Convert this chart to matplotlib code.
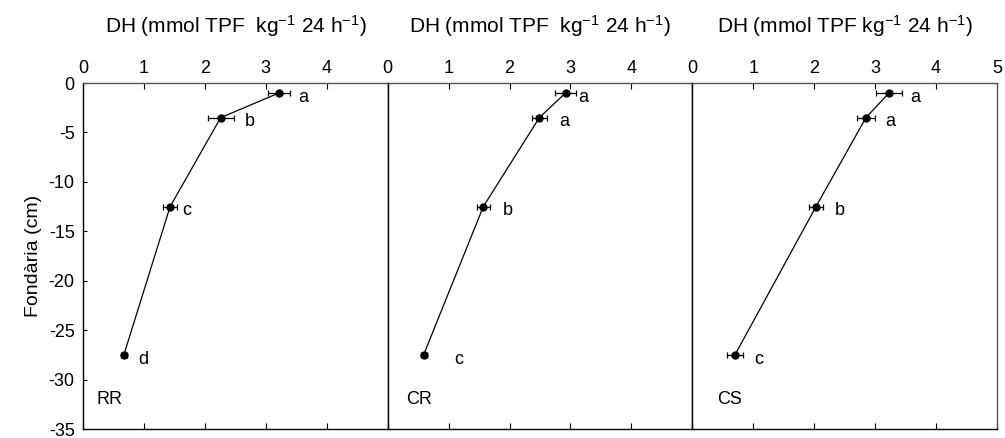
import numpy as np
import matplotlib
matplotlib.use('Agg')
import matplotlib.pyplot as plt

plt.rcParams['font.family'] = ['Liberation Sans', 'DejaVu Sans']
plt.rcParams['mathtext.fontset'] = 'custom'
plt.rcParams['mathtext.rm'] = 'Liberation Sans'
plt.rcParams['mathtext.it'] = 'Liberation Sans'
plt.rcParams['axes.unicode_minus'] = False

# ── Dades ─────────────────────────────────────────────────────────────────────
fondaria = [-1.0, -3.5, -12.5, -27.5]

tractaments = ['RR', 'CR', 'CS']
dh_rr = [3.22, 2.26, 1.43, 0.67]
dh_cr = [2.92, 2.49, 1.57, 0.59]
dh_cs = [3.23, 2.85, 2.03, 0.70]
err_rr = [0.18, 0.21, 0.11, 0.05]
err_cr = [0.17, 0.12, 0.11, 0.05]
err_cs = [0.21, 0.15, 0.12, 0.13]
lletres_rr = ['a', 'b', 'c', 'd']
lletres_cr = ['a', 'a', 'b', 'c']
lletres_cs = ['a', 'a', 'b', 'c']

titols = [r'DH (mmol TPF  kg$^{-1}$ 24 h$^{-1}$)',
          r'DH (mmol TPF  kg$^{-1}$ 24 h$^{-1}$)',
          r'DH (mmol TPF kg$^{-1}$ 24 h$^{-1}$)']

dh = [dh_rr, dh_cr, dh_cs]
err = [err_rr, err_cr, err_cs]
lletres = [lletres_rr, lletres_cr, lletres_cs]

# separació horitzontal de cada lletra respecte a la barra d'error (punts)
sep_lletra = [[6, 8, 4, 8], [2, 9, 9, 20], [6, 7, 8, 8]]
x_etiqueta = [0.043, 0.06, 0.082]

# ── Figura ────────────────────────────────────────────────────────────────────
fig = plt.figure(figsize=(10.05, 4.38), dpi=100)
left, right, bottom, top = 0.0826, 0.992, 0.0205, 0.8105
w = (right - left) / 3

for i in range(3):
    ax = fig.add_axes([left + i * w, bottom, w, top - bottom])
    x = dh[i]
    ax.errorbar(x, fondaria, xerr=err[i], fmt='o-', color='black',
                ms=5, lw=0.9, elinewidth=0.9, capsize=2.5, capthick=0.9)
    for xv, yv, e, l, s in zip(x, fondaria, err[i], lletres[i], sep_lletra[i]):
        ax.annotate(l, (xv + e, yv), xytext=(s, -3), textcoords='offset points',
                    ha='left', va='center', fontsize=13)

    ax.set_xlim(0, 5)
    ax.set_ylim(-35, 0)
    ax.set_xticks(range(6))
    if i < 2:
        ax.set_xticklabels(['0', '1', '2', '3', '4', ''])
    ax.xaxis.tick_top()
    ax.tick_params(axis='x', which='both', direction='in', length=4,
                   top=True, bottom=True, labelsize=13, pad=4)
    ax.set_yticks(range(-35, 1, 5))
    ax.tick_params(axis='y', direction='in', length=3, labelsize=13, pad=6)
    if i == 0:
        ax.set_ylabel('Fondària (cm)', fontsize=14, labelpad=5)
    else:
        ax.set_yticklabels([])
        ax.tick_params(axis='y', left=False)

    ax.spines['top'].set_color('#555555')
    ax.spines['right'].set_color('#555555')
    for sp in ax.spines.values():
        sp.set_linewidth(1.0)

    ax.set_title(titols[i], fontsize=15, pad=36)
    ax.text(x_etiqueta[i], 0.085, tractaments[i], transform=ax.transAxes,
            fontsize=13, ha='left', va='center')

fig.savefig('out.png', dpi=100)
